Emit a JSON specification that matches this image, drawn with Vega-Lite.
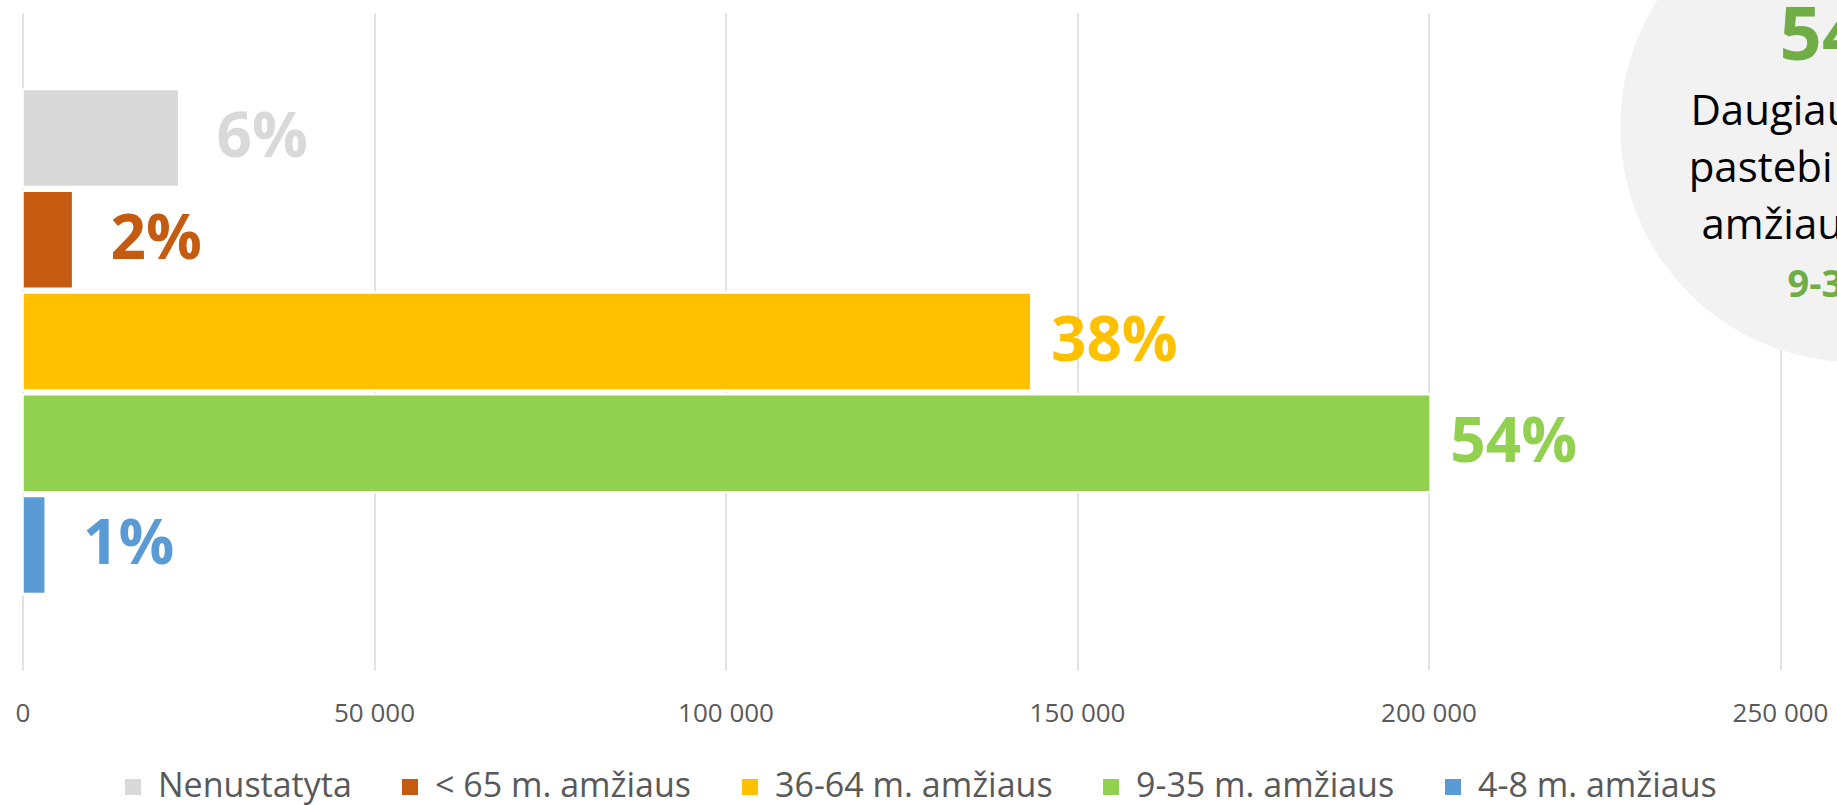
{
  "$schema": "https://vega.github.io/schema/vega-lite/v6.json",
  "autosize": {"type": "none"},
  "width": 1757.5,
  "height": 657,
  "padding": {"left": 22.5, "top": 13, "right": 57, "bottom": 135},
  "background": "white",
  "datasets": {
    "amzius": [
      {"kategorija": "Nenustatyta", "kiekis": 22300, "dalis": "6%"},
      {"kategorija": "< 65 m. amžiaus", "kiekis": 7200, "dalis": "2%"},
      {"kategorija": "36-64 m. amžiaus", "kiekis": 143500, "dalis": "38%"},
      {"kategorija": "9-35 m. amžiaus", "kiekis": 200300, "dalis": "54%"},
      {"kategorija": "4-8 m. amžiaus", "kiekis": 3300, "dalis": "1%"}
    ],
    "pastaba": [
      {"kategorija": "Nenustatyta", "kiekis": 260700, "skaicius": "54%", "tekstas": ["Daugiausia vaikų", "pastebi jaunimas", "amžiaus grupės"], "grupe": "9-35 m."}
    ]
  },
  "encoding": {
    "y": {
      "field": "kategorija",
      "type": "nominal",
      "scale": {
        "domain": ["Nenustatyta", "< 65 m. amžiaus", "36-64 m. amžiaus", "9-35 m. amžiaus", "4-8 m. amžiaus"],
        "paddingInner": 0.037,
        "paddingOuter": 0.747
      },
      "axis": null
    },
    "x": {
      "field": "kiekis",
      "type": "quantitative",
      "scale": {"domain": [0, 250000], "nice": false},
      "axis": {
        "title": null,
        "values": [0, 50000, 100000, 150000, 200000, 250000],
        "labelExpr": "replace(format(datum.value, ',d'), ',', ' ')",
        "labelFlush": false,
        "grid": true,
        "gridColor": "#D9D9D9",
        "gridWidth": 1.5,
        "ticks": false,
        "tickSize": 0,
        "domain": false,
        "labelFont": "Open Sans",
        "labelFontSize": 26,
        "labelColor": "#595959",
        "labelPadding": 30,
        "labelBaseline": "top"
      }
    }
  },
  "layer": [
    {
      "data": {"name": "amzius"},
      "mark": {"type": "bar", "stroke": "white", "strokeWidth": 2.5},
      "encoding": {
        "color": {
          "field": "kategorija",
          "type": "nominal",
          "scale": {
            "domain": ["Nenustatyta", "< 65 m. amžiaus", "36-64 m. amžiaus", "9-35 m. amžiaus", "4-8 m. amžiaus"],
            "range": ["#D9D9D9", "#C55A11", "#FFC000", "#92D050", "#5B9BD5"]
          },
          "legend": {
            "title": null,
            "orient": "none",
            "legendX": 93.5,
            "legendY": 757,
            "direction": "horizontal",
            "symbolType": "square",
            "symbolSize": 256,
            "symbolStrokeWidth": 0,
            "labelFont": "Open Sans",
            "labelFontSize": 34,
            "labelColor": "#595959",
            "labelOffset": 8,
            "columnPadding": 41,
            "padding": 0,
            "labelLimit": 0
          }
        }
      }
    },
    {
      "data": {"name": "amzius"},
      "mark": {"type": "text", "align": "center", "baseline": "middle", "dx": 83, "font": "Open Sans", "fontSize": 62, "fontWeight": "bold"},
      "encoding": {
        "text": {"field": "dalis"},
        "color": {"field": "kategorija", "type": "nominal"}
      }
    },
    {
      "data": {"name": "pastaba"},
      "mark": {"type": "point", "shape": "circle", "filled": true, "opacity": 1, "color": "#F2F2F2", "size": 220900, "yOffset": -11}
    },
    {
      "data": {"name": "pastaba"},
      "mark": {"type": "text", "align": "center", "baseline": "alphabetic", "dy": -78, "font": "Open Sans", "fontSize": 74, "fontWeight": "bold", "color": "#70AD47"},
      "encoding": {
        "text": {"field": "skaicius"}
      }
    },
    {
      "data": {"name": "pastaba"},
      "mark": {"type": "text", "align": "center", "baseline": "alphabetic", "dy": -13, "lineHeight": 57, "font": "Open Sans", "fontSize": 42, "color": "#000000"},
      "encoding": {
        "text": {"field": "tekstas"}
      }
    },
    {
      "data": {"name": "pastaba"},
      "mark": {"type": "text", "align": "center", "baseline": "alphabetic", "dy": 159, "font": "Open Sans", "fontSize": 38, "fontWeight": "bold", "color": "#70AD47"},
      "encoding": {
        "text": {"field": "grupe"}
      }
    }
  ],
  "config": {"view": {"stroke": null}}
}
